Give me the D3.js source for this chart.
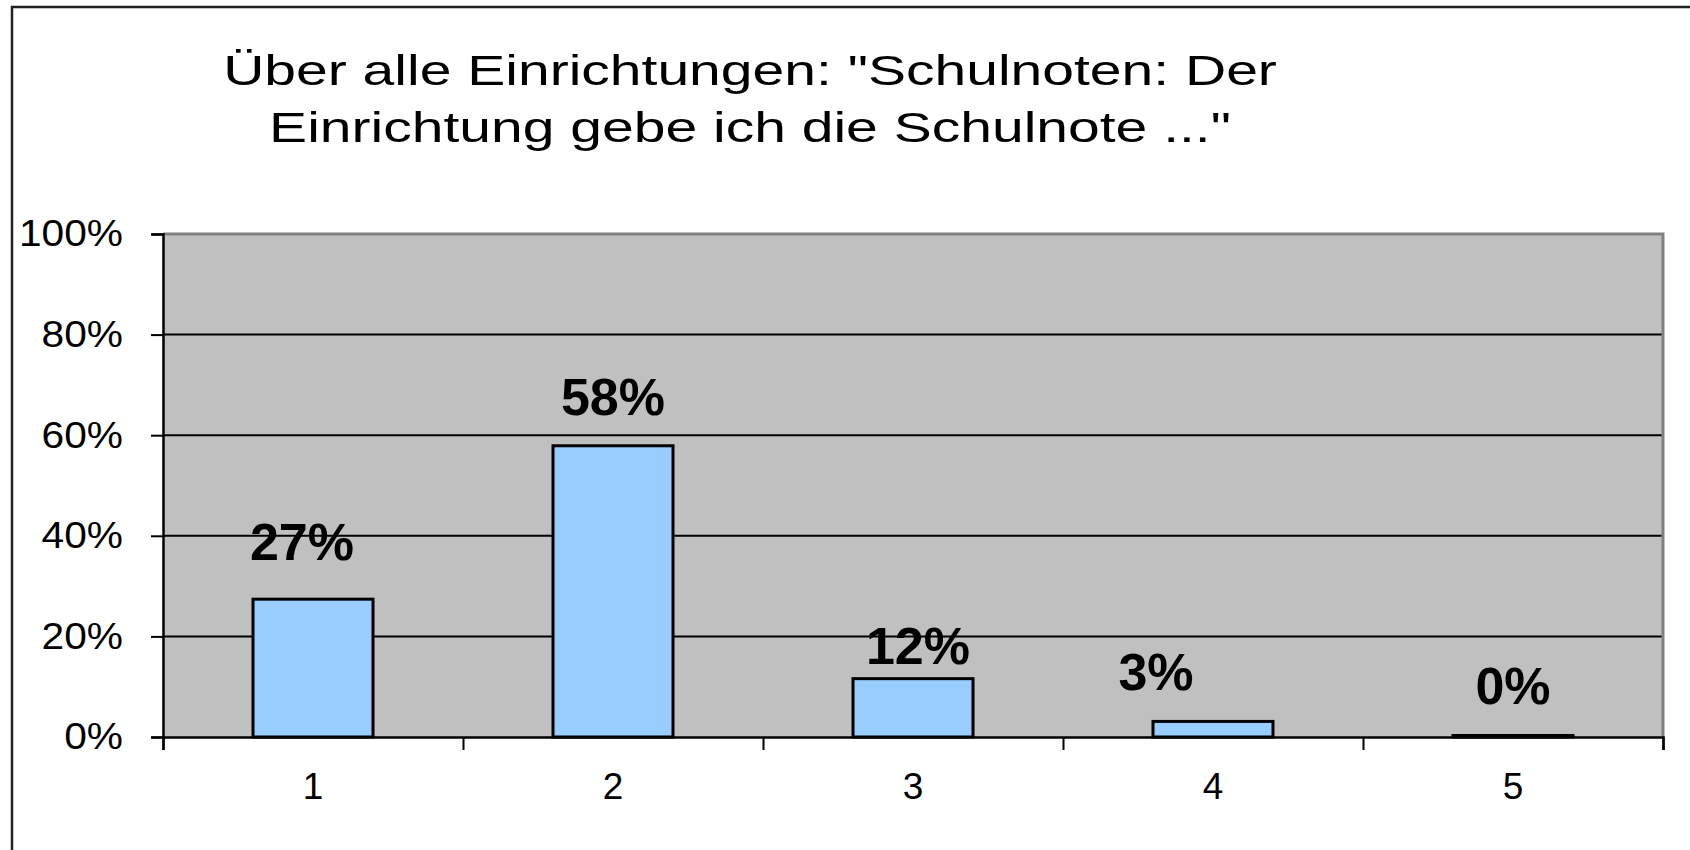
<!DOCTYPE html>
<html>
<head>
<meta charset="utf-8">
<script src="https://cdn.jsdelivr.net/npm/d3@7"></script>
<style>
  body { margin: 0; background: #fff; }
  svg { display: block; font-family: "Liberation Sans", Arial, sans-serif; }
</style>
</head>
<body>
<svg id="chart"></svg>
<script>
const titleLines = ['Über alle Einrichtungen: "Schulnoten: Der', 'Einrichtung gebe ich die Schulnote ..."'];
const grades = ['1', '2', '3', '4', '5'];
const shares = [0.274, 0.579, 0.116, 0.031, 0.003];
const shareLabels = ['27%', '58%', '12%', '3%', '0%'];
const yTicks = [0, 0.2, 0.4, 0.6, 0.8, 1];
// the labels were dragged around by hand in the original, so nudge them the same way
const labelNudge = [[-11, -9], [0, -1], [5, 15], [-57, -1], [0, -1]];

class GradesDrawer {
  constructor() {
    this.width = 1690;
    this.height = 850;
    this.plot = {left: 163, right: 1663, top: 234, bottom: 737};
    this.titleCenter = 750;

    this.xScale = d3.scaleBand().domain(grades).range([this.plot.left, this.plot.right]).paddingInner(0.6).paddingOuter(0.3);
    this.slotScale = d3.scaleBand().domain(grades).range([this.plot.left, this.plot.right]);
    this.edgeScale = d3.scaleLinear().domain([0, grades.length]).range([this.plot.left, this.plot.right]);
    this.yScale = d3.scaleLinear().domain([0, 1]).range([this.plot.bottom, this.plot.top]);
  }

  draw() {
    const svg = d3.select('#chart').attr('width', this.width).attr('height', this.height);

    svg.append('rect').attr('x', 12).attr('y', 7).attr('width', this.width + 20).attr('height', this.height + 20)
      .attr('fill', '#fff').attr('stroke', '#222').attr('stroke-width', 2.5);

    this.drawTitle(svg);
    this.drawPlotArea(svg);
    this.drawBars(svg);
    this.drawAxes(svg);
    this.drawLabels(svg);
  }

  drawTitle(svg) {
    // title in the original is stretched sideways, so widen it around its centre
    const c = this.titleCenter;
    svg.append('text').attr('transform', `translate(${c}, 0) scale(1.358, 1)`)
      .attr('text-anchor', 'middle').attr('font-size', 42).attr('fill', '#000')
      .selectAll('tspan').data(titleLines).enter().append('tspan')
      .attr('x', 0).attr('y', (d, i) => 85 + i * 57)
      .text((d) => d);
  }

  drawPlotArea(svg) {
    const p = this.plot;
    svg.append('rect').attr('x', p.left).attr('y', p.top).attr('width', p.right - p.left).attr('height', p.bottom - p.top)
      .attr('fill', '#c0c0c0');

    svg.append('g').selectAll('line').data(yTicks.filter((t) => t > 0 && t < 1)).enter().append('line')
      .attr('x1', p.left).attr('x2', p.right)
      .attr('y1', (d) => this.yScale(d)).attr('y2', (d) => this.yScale(d))
      .attr('stroke', '#000').attr('stroke-width', 2);

    svg.append('path').attr('fill', 'none').attr('stroke', '#808080').attr('stroke-width', 3)
      .attr('d', `M${p.left},${p.top}H${p.right}V${p.bottom}`);
  }

  drawBars(svg) {
    svg.append('g').selectAll('rect').data(shares).enter().append('rect')
      .attr('x', (d, i) => this.xScale(grades[i]))
      .attr('width', this.xScale.bandwidth())
      .attr('y', (d) => this.yScale(d))
      .attr('height', (d) => this.yScale(0) - this.yScale(d))
      .attr('fill', '#99ccff').attr('stroke', '#000').attr('stroke-width', 3);
  }

  drawAxes(svg) {
    const yAxis = d3.axisLeft(this.yScale).tickValues(yTicks).tickFormat(d3.format('.0%')).tickSize(12).tickPadding(28);
    const yAxisGroup = svg.append('g').attr('transform', `translate(${this.plot.left}, 0)`).call(yAxis);
    yAxisGroup.selectAll('text').attr('font-size', 37).attr('fill', '#000').attr('font-family', null)
      .attr('textLength', function () { return this.getComputedTextLength() * 1.1; })
      .attr('lengthAdjust', 'spacingAndGlyphs');
    yAxisGroup.selectAll('line').attr('stroke', '#000').attr('stroke-width', 2);
    yAxisGroup.select('.domain').attr('stroke', '#000').attr('stroke-width', 2.5);

    const tickAxis = d3.axisBottom(this.edgeScale).ticks(grades.length).tickFormat('').tickSize(13).tickSizeOuter(13);
    const tickGroup = svg.append('g').attr('transform', `translate(0, ${this.plot.bottom})`).call(tickAxis);
    tickGroup.selectAll('line').attr('stroke', '#000').attr('stroke-width', 2);
    tickGroup.select('.domain').attr('stroke', '#000').attr('stroke-width', 2.5);

    const labelAxis = d3.axisBottom(this.slotScale).tickSize(0).tickPadding(36);
    const labelGroup = svg.append('g').attr('transform', `translate(0, ${this.plot.bottom})`).call(labelAxis);
    labelGroup.select('.domain').remove();
    labelGroup.selectAll('text').attr('font-size', 37).attr('fill', '#000').attr('font-family', null);
  }

  drawLabels(svg) {
    svg.append('g').selectAll('text').data(shares).enter().append('text')
      .attr('x', (d, i) => this.xScale(grades[i]) + this.xScale.bandwidth() / 2 + labelNudge[i][0])
      .attr('y', (d, i) => this.yScale(d) - 30 + labelNudge[i][1])
      .attr('text-anchor', 'middle').attr('font-size', 52).attr('font-weight', 'bold').attr('fill', '#000')
      .text((d, i) => shareLabels[i]);
  }
}

new GradesDrawer().draw();
</script>
</body>
</html>
